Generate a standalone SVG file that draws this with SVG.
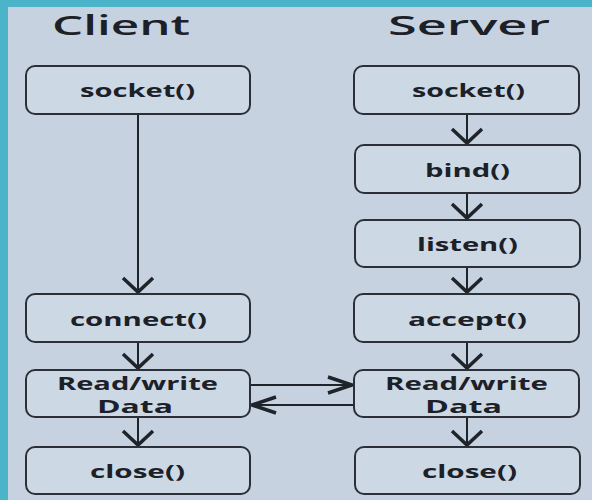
<svg xmlns="http://www.w3.org/2000/svg" width="592" height="500" viewBox="0 0 592 500">
  <defs>
    <style>
      .frame { fill: #4cb4c8; }
      .page { fill: #c6d2e0; }
      .box { fill: #cdd8e5; stroke: #2b3038; stroke-width: 2; }
      .title { font-family: "Open Sans", "Liberation Sans", sans-serif; font-weight: 600; font-size: 27px; fill: #1c2027; }
      .label { font-family: "Open Sans", "Liberation Sans", sans-serif; font-weight: 700; font-size: 18px; fill: #1c2027; }
      .link { fill: none; stroke: #1f232a; stroke-width: 2; }
      .head { fill: none; stroke: #1f232a; stroke-width: 3.5; stroke-linejoin: miter; stroke-linecap: butt; }
    </style>
    <!-- wide chevron for the vertical steps -->
    <marker id="headV" markerUnits="userSpaceOnUse" markerWidth="40" markerHeight="40" viewBox="-20 -20 40 40" refX="0" refY="0" orient="auto" overflow="visible">
      <path class="head" d="M-14,-15 L0,0 L-14,15"/>
    </marker>
    <!-- long narrow chevron for the data exchange arrows -->
    <marker id="headH" markerUnits="userSpaceOnUse" markerWidth="40" markerHeight="40" viewBox="-20 -20 40 40" refX="0" refY="0" orient="auto" overflow="visible">
      <path class="head" d="M-24,-8 L0,0 L-24,8"/>
    </marker>
  </defs>

  <!-- background with teal edge on top and left -->
  <rect class="frame" x="0" y="0" width="592" height="500"/>
  <rect class="page" x="8" y="7" width="584" height="493"/>

  <!-- column titles -->
  <text class="title" x="52" y="35" textLength="138" lengthAdjust="spacingAndGlyphs">Client</text>
  <text class="title" x="388" y="35" textLength="162" lengthAdjust="spacingAndGlyphs">Server</text>

  <!-- connectors -->
  <g id="connectors">
    <line class="link" x1="138" y1="114" x2="138" y2="292" marker-end="url(#headV)"/>
    <line class="link" x1="138" y1="342" x2="138" y2="368" marker-end="url(#headV)"/>
    <line class="link" x1="138" y1="417" x2="138" y2="445" marker-end="url(#headV)"/>
    <line class="link" x1="467" y1="114" x2="467" y2="143" marker-end="url(#headV)"/>
    <line class="link" x1="467" y1="193" x2="467" y2="218" marker-end="url(#headV)"/>
    <line class="link" x1="467" y1="267" x2="467" y2="292" marker-end="url(#headV)"/>
    <line class="link" x1="467" y1="342" x2="467" y2="368" marker-end="url(#headV)"/>
    <line class="link" x1="467" y1="417" x2="467" y2="445" marker-end="url(#headV)"/>
    <line class="link" x1="250" y1="385" x2="352" y2="385" marker-end="url(#headH)"/>
    <line class="link" x1="354" y1="405" x2="252" y2="405" marker-end="url(#headH)"/>
  </g>

  <!-- client nodes -->
  <g id="client-socket">
    <rect class="box" x="26" y="66" width="224" height="48" rx="9"/>
    <text class="label" x="80" y="97" textLength="115" lengthAdjust="spacingAndGlyphs">socket()</text>
  </g>
  <g id="client-connect">
    <rect class="box" x="26" y="294" width="224" height="48" rx="9"/>
    <text class="label" x="70" y="326" textLength="137" lengthAdjust="spacingAndGlyphs">connect()</text>
  </g>
  <g id="client-readwrite">
    <rect class="box" x="26" y="370" width="224" height="47" rx="9"/>
    <text class="label" x="57" y="390" textLength="161" lengthAdjust="spacingAndGlyphs">Read/write</text>
    <text class="label" x="97" y="413" textLength="76" lengthAdjust="spacingAndGlyphs">Data</text>
  </g>
  <g id="client-close">
    <rect class="box" x="26" y="447" width="224" height="47" rx="9"/>
    <text class="label" x="90" y="478" textLength="95" lengthAdjust="spacingAndGlyphs">close()</text>
  </g>

  <!-- server nodes -->
  <g id="server-socket">
    <rect class="box" x="354" y="66" width="225" height="48" rx="9"/>
    <text class="label" x="412" y="97" textLength="113" lengthAdjust="spacingAndGlyphs">socket()</text>
  </g>
  <g id="server-bind">
    <rect class="box" x="355" y="145" width="225" height="48" rx="9"/>
    <text class="label" x="425" y="177" textLength="85" lengthAdjust="spacingAndGlyphs">bind()</text>
  </g>
  <g id="server-listen">
    <rect class="box" x="355" y="220" width="225" height="47" rx="9"/>
    <text class="label" x="417" y="251" textLength="101" lengthAdjust="spacingAndGlyphs">listen()</text>
  </g>
  <g id="server-accept">
    <rect class="box" x="354" y="294" width="225" height="48" rx="9"/>
    <text class="label" x="408" y="326" textLength="119" lengthAdjust="spacingAndGlyphs">accept()</text>
  </g>
  <g id="server-readwrite">
    <rect class="box" x="354" y="370" width="225" height="47" rx="9"/>
    <text class="label" x="385" y="390" textLength="163" lengthAdjust="spacingAndGlyphs">Read/write</text>
    <text class="label" x="425" y="413" textLength="77" lengthAdjust="spacingAndGlyphs">Data</text>
  </g>
  <g id="server-close">
    <rect class="box" x="355" y="447" width="225" height="47" rx="9"/>
    <text class="label" x="422" y="478" textLength="95" lengthAdjust="spacingAndGlyphs">close()</text>
  </g>
</svg>
